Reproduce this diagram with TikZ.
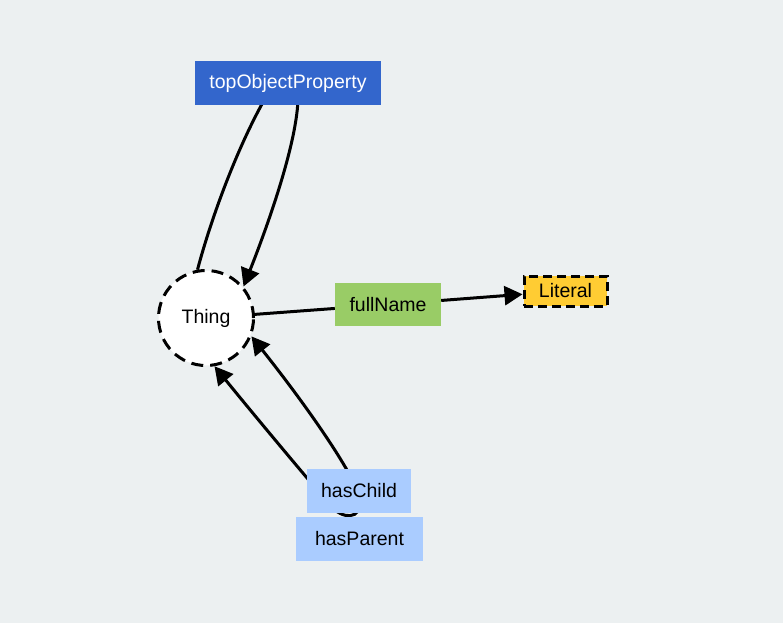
\documentclass[tikz,border=0pt]{standalone}
\usepackage{fontspec}
\setmainfont{Liberation Sans}
\usepackage{xcolor}
\usetikzlibrary{arrows.meta,backgrounds}

\definecolor{bgcol}{HTML}{ECF0F1}
\definecolor{topblue}{HTML}{3366CC}
\definecolor{dtgreen}{HTML}{99CC66}
\definecolor{lityellow}{HTML}{FFCC33}
\definecolor{proplight}{HTML}{AACCFF}

\begin{document}
\begin{tikzpicture}[x=1pt, y=-1pt,
    every node/.style = {font=\fontsize{19.5}{23}\selectfont, inner sep=0pt},
    prop/.style = {shape=rectangle, minimum height=44pt},
    classnode/.style = {shape=circle, fill=white, draw, line width=3pt,
      dash pattern=on 12pt off 7pt, minimum size=95pt},
    litnode/.style = {shape=rectangle, fill=lityellow, draw, line width=3pt,
      dash pattern=on 9pt off 5pt, minimum width=83pt, minimum height=30pt},
    link/.style = {line width=3pt},
    tip/.style = {-{Triangle[length=18pt, width=19pt]}},
    twotips/.style = {{Triangle[length=18pt, width=19pt]}-{Triangle[length=18pt, width=19pt]}}]
    \useasboundingbox (0,0) rectangle (783,623);

    \node[classnode] (thing) at (206,318) {\raisebox{-2pt}{Thing}};
    \node[prop, fill=topblue, text=white, minimum width=186pt] (top) at (288,83.5) {topObjectProperty};
    \node[prop, fill=dtgreen, minimum width=106pt, minimum height=43pt] (fullname) at (388,304.5) {fullName};
    \node[litnode] (literal) at (565.5,291) {Literal};
    \node[prop, fill=proplight, minimum width=104pt] (haschild) at (359,491) {hasChild};
    \node[prop, fill=proplight, minimum width=127pt] (hasparent) at (359.5,539) {hasParent};

    \begin{scope}[on background layer]
      \fill[bgcol] (0,0) rectangle (783,623);
      % loop through topObjectProperty
      \draw[link, tip] (thing.100) .. controls (212,215) and (240,140) .. (270,90)
        .. controls (285,70) and (299,80) .. (298,100)
        .. controls (296,150) and (262,240) .. (thing.40);
      % datatype property
      \draw[link] (thing) -- (fullname);
      \draw[link, tip] (fullname) -- (literal);
      % inverse pair hasChild / hasParent
      \draw[link, twotips] (thing.-80) .. controls (250,410) and (300,470) .. (330,505)
        .. controls (342,520) and (362,520) .. (360,500)
        .. controls (358,480) and (310,410) .. (thing.-22);
    \end{scope}
\end{tikzpicture}
\end{document}
